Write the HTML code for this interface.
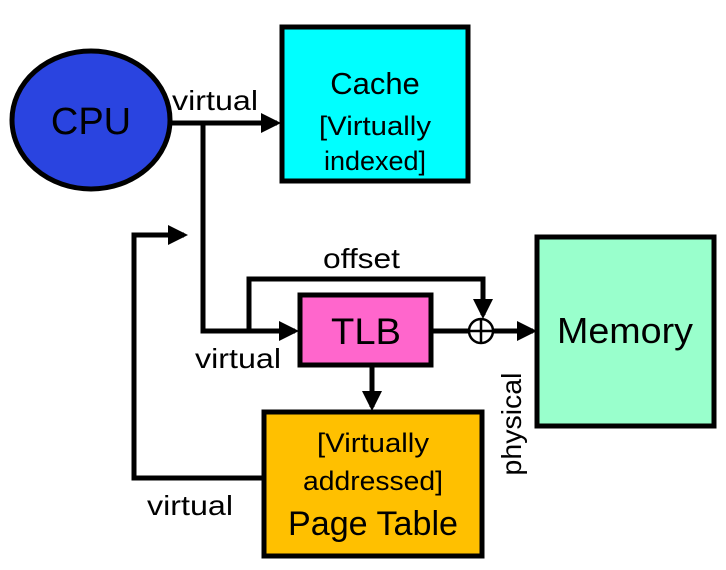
<!DOCTYPE html>
<html><head><style>body{margin:0;background:#fff}</style></head><body>
<svg width="726" height="565" viewBox="0 0 726 565" xmlns="http://www.w3.org/2000/svg" font-family="Liberation Sans, sans-serif">
<defs><marker id="a" markerWidth="4" markerHeight="4" refX="3.2" refY="2" orient="auto" markerUnits="strokeWidth"><path d="M0,0 L4,2 L0,4z" fill="#000"/></marker></defs>
<ellipse cx="91" cy="120" rx="79" ry="69" fill="#2a44e0" stroke="#000" stroke-width="5"/>
<text x="91" y="134" font-size="38" text-anchor="middle">CPU</text>
<rect x="282" y="27" width="186" height="154" fill="#00ffff" stroke="#000" stroke-width="5"/>
<text x="375" y="94" font-size="31" text-anchor="middle">Cache</text>
<text x="375" y="135" font-size="27" text-anchor="middle" textLength="112" lengthAdjust="spacingAndGlyphs">[Virtually</text>
<text x="375" y="170" font-size="27" text-anchor="middle">indexed]</text>
<rect x="537" y="237" width="177" height="189" fill="#99ffcc" stroke="#000" stroke-width="5"/>
<text x="625" y="343" font-size="36" text-anchor="middle" textLength="136" lengthAdjust="spacingAndGlyphs">Memory</text>
<rect x="300" y="295" width="131" height="70" fill="#ff66cc" stroke="#000" stroke-width="5"/>
<text x="366" y="344" font-size="37" text-anchor="middle" textLength="70" lengthAdjust="spacingAndGlyphs">TLB</text>
<rect x="264" y="412" width="218" height="144" fill="#ffc000" stroke="#000" stroke-width="5"/>
<text x="373" y="452" font-size="27" text-anchor="middle" textLength="112" lengthAdjust="spacingAndGlyphs">[Virtually</text>
<text x="373" y="490" font-size="27" text-anchor="middle" textLength="140" lengthAdjust="spacingAndGlyphs">addressed]</text>
<text x="373" y="535" font-size="34" text-anchor="middle" textLength="170" lengthAdjust="spacingAndGlyphs">Page Table</text>
<g stroke="#000" stroke-width="5" fill="none">
<line x1="170" y1="123" x2="277" y2="123" marker-end="url(#a)"/>
<polyline points="203,123 203,331 295,331" marker-end="url(#a)"/>
<polyline points="249,331 249,279 483,279 483,315" marker-end="url(#a)"/>
<line x1="431" y1="331" x2="469" y2="331"/>
<line x1="493" y1="331" x2="533" y2="331" marker-end="url(#a)"/>
<line x1="372" y1="365" x2="372" y2="407" marker-end="url(#a)"/>
<polyline points="264,478 134,478 134,235 184,235" marker-end="url(#a)"/>
</g>
<circle cx="481" cy="331" r="12" fill="#fff" stroke="#000" stroke-width="2.5"/>
<line x1="469" y1="331" x2="493" y2="331" stroke="#000" stroke-width="2.5"/>
<line x1="481" y1="319" x2="481" y2="343" stroke="#000" stroke-width="2.5"/>
<text x="172" y="110" font-size="28" textLength="86" lengthAdjust="spacingAndGlyphs">virtual</text>
<text x="323" y="268" font-size="28" textLength="77" lengthAdjust="spacingAndGlyphs">offset</text>
<text x="195" y="368" font-size="28" textLength="86" lengthAdjust="spacingAndGlyphs">virtual</text>
<text x="147" y="515" font-size="28" textLength="86" lengthAdjust="spacingAndGlyphs">virtual</text>
<text transform="translate(521,424) rotate(-90)" font-size="28" text-anchor="middle" textLength="103" lengthAdjust="spacingAndGlyphs">physical</text>
</svg>
</body></html>
